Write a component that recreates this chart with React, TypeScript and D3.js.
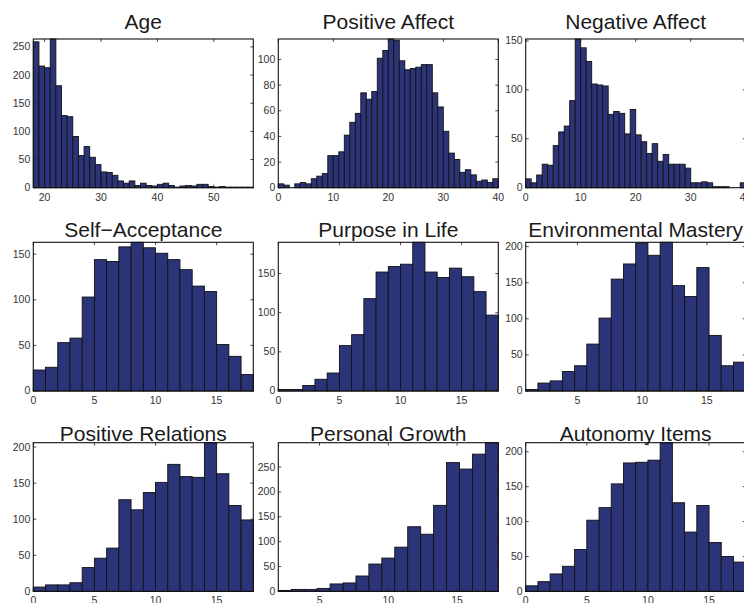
import React, { useEffect, useRef } from 'react';
import * as d3 from 'd3';

// panel titles, in grid order
const titles = [
  'Age', 'Positive Affect', 'Negative Affect',
  'Self\u2212Acceptance', 'Purpose in Life', 'Environmental Mastery',
  'Positive Relations', 'Personal Growth', 'Autonomy Items'
];

// histogram counts
const ageCounts = [259, 216, 213, 264, 181, 128, 126, 91, 57, 73, 54, 41, 28, 27, 22, 12, 8, 12, 4, 8, 4, 3, 6, 8, 4, 1, 3, 4, 3, 6, 6, 2, 1, 2, 1, 1, 1, 1, 1];
const posAffectCounts = [3, 2, 0, 3, 4, 3, 7, 9, 11, 25, 25, 28, 41, 51, 58, 74, 69, 75, 101, 107, 116, 115, 99, 92, 93, 94, 96, 96, 74, 63, 44, 27, 22, 12, 14, 10, 5, 6, 4, 7];
const negAffectCounts = [9, 5, 13, 24, 23, 43, 57, 63, 89, 152, 143, 129, 106, 105, 104, 75, 78, 76, 55, 80, 54, 47, 35, 45, 27, 34, 24, 24, 24, 20, 5, 5, 6, 5, 1, 1, 1, 0, 0, 5];
const selfAccCounts = [23, 26, 53, 58, 103, 144, 142, 158, 163, 157, 151, 144, 133, 115, 109, 51, 38, 18];
const purposeCounts = [2, 2, 7, 15, 23, 58, 72, 118, 152, 159, 162, 190, 152, 145, 157, 146, 127, 97];
const envMasteryCounts = [2, 11, 14, 27, 35, 65, 101, 155, 176, 205, 188, 206, 146, 131, 171, 77, 35, 40];
const posRelCounts = [6, 9, 9, 12, 33, 46, 60, 127, 113, 137, 151, 176, 159, 158, 206, 163, 119, 99];
const growthCounts = [2, 4, 4, 6, 15, 17, 31, 55, 67, 89, 130, 115, 173, 259, 246, 276, 299];
const autonomyCounts = [8, 14, 25, 36, 60, 102, 120, 154, 184, 185, 188, 213, 127, 85, 123, 70, 50, 42];

// x ranges of the bins (first edge, last edge)
const xRanges = [
  [18, 57], [0, 40], [0, 40],
  [0, 18], [0, 18], [1, 18],
  [0, 18], [2, 18], [0, 18]
];

// tick labels
const xTickSets = [
  [20, 30, 40, 50], [0, 10, 20, 30, 40], [0, 10, 20, 30, 40],
  [0, 5, 10, 15], [0, 5, 10, 15], [5, 10, 15],
  [0, 5, 10, 15], [5, 10, 15], [0, 5, 10, 15]
];
const yTickSets = [
  [0, 50, 100, 150, 200, 250], [0, 20, 40, 60, 80, 100], [0, 50, 100, 150],
  [0, 50, 100, 150], [0, 50, 100, 150], [0, 50, 100, 150, 200],
  [0, 50, 100, 150, 200], [0, 50, 100, 150, 200, 250], [0, 50, 100, 150, 200]
];

const countSets = [ageCounts, posAffectCounts, negAffectCounts, selfAccCounts, purposeCounts,
  envMasteryCounts, posRelCounts, growthCounts, autonomyCounts];

const colLeft = [33.3, 278.3, 525.7];
const rowTop = [39, 242.3, 442.7];
const rowTitleY = [29, 237, 441];
const plotW = 220;
const plotH = 148.7;
const font = '"Liberation Sans", Arial, Helvetica, sans-serif';

function App() {
  const ref = useRef<SVGSVGElement>(null);

  useEffect(() => {
    const svg = d3.select(ref.current);
    svg.selectAll('*').remove();

    countSets.forEach((counts, i) => {
      const col = i % 3, row = Math.floor(i / 3);
      const [x0, x1] = xRanges[i];
      const n = counts.length;
      const step = (x1 - x0) / n;

      const x = d3.scaleLinear().domain([x0, x1]).range([0, plotW]);
      const y = d3.scaleLinear().domain([0, d3.max(counts) as number]).range([plotH, 0]);

      const g = svg.append('g')
        .attr('transform', `translate(${colLeft[col]},${rowTop[row]})`);

      // bars
      g.selectAll('rect.bar')
        .data(counts)
        .enter().append('rect')
        .attr('class', 'bar')
        .attr('x', (d, j) => x(x0 + j * step))
        .attr('width', (d, j) => x(x0 + (j + 1) * step) - x(x0 + j * step))
        .attr('y', d => y(d))
        .attr('height', d => plotH - y(d))
        .attr('fill', '#2c3479')
        .attr('stroke', '#111')
        .attr('stroke-width', 0.9);

      // inward tick marks on all four sides
      const tl = 3;
      xTickSets[i].forEach(t => {
        g.append('line').attr('x1', x(t)).attr('x2', x(t)).attr('y1', plotH).attr('y2', plotH - tl)
          .attr('stroke', '#222').attr('stroke-width', 0.8);
        g.append('line').attr('x1', x(t)).attr('x2', x(t)).attr('y1', 0).attr('y2', tl)
          .attr('stroke', '#222').attr('stroke-width', 0.8);
      });
      yTickSets[i].forEach(t => {
        g.append('line').attr('x1', 0).attr('x2', tl).attr('y1', y(t)).attr('y2', y(t))
          .attr('stroke', '#222').attr('stroke-width', 0.8);
        g.append('line').attr('x1', plotW).attr('x2', plotW - tl).attr('y1', y(t)).attr('y2', y(t))
          .attr('stroke', '#222').attr('stroke-width', 0.8);
      });

      // box
      g.append('rect')
        .attr('width', plotW).attr('height', plotH)
        .attr('fill', 'none').attr('stroke', '#111').attr('stroke-width', 1.1);

      // tick labels
      g.selectAll('text.xt')
        .data(xTickSets[i])
        .enter().append('text')
        .attr('class', 'xt')
        .attr('x', d => x(d))
        .attr('y', plotH + 13)
        .attr('text-anchor', 'middle')
        .attr('font-family', font).attr('font-size', 10.5).attr('fill', '#333')
        .text(d => d);

      g.selectAll('text.yt')
        .data(yTickSets[i])
        .enter().append('text')
        .attr('class', 'yt')
        .attr('x', -3)
        .attr('y', d => y(d) + 3.5)
        .attr('text-anchor', 'end')
        .attr('font-family', font).attr('font-size', 10.5).attr('fill', '#333')
        .text(d => d);

      // title
      svg.append('text')
        .attr('x', colLeft[col] + plotW / 2)
        .attr('y', rowTitleY[row])
        .attr('text-anchor', 'middle')
        .attr('font-family', font).attr('font-size', 21).attr('fill', '#1a1a1a')
        .text(titles[i]);
    });
  }, []);

  return (
    <svg ref={ref} width={744} height={603}
      style={{ position: 'absolute', left: 0, top: 0, background: '#fff' }} />
  );
}

export default App;
